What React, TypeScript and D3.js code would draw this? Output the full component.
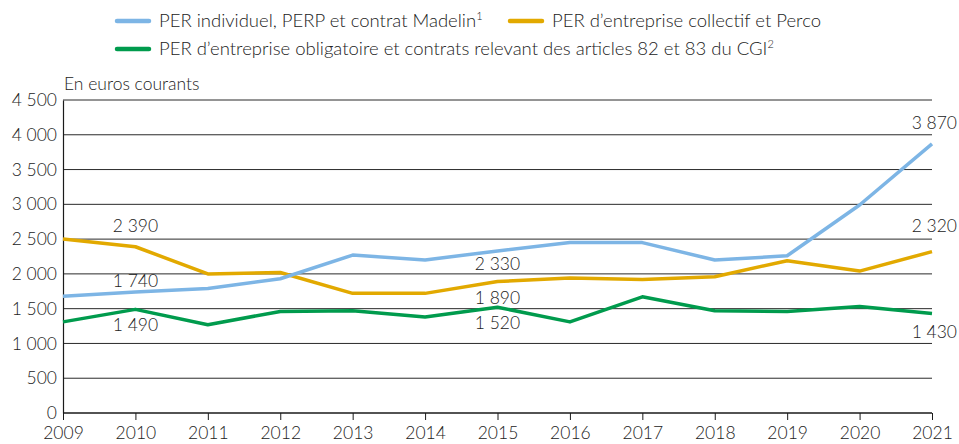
import React, { useEffect, useRef } from 'react';
import * as d3 from 'd3';

// Data
const years = [2009, 2010, 2011, 2012, 2013, 2014, 2015, 2016, 2017, 2018, 2019, 2020, 2021];
const perIndividuel = [1680, 1740, 1790, 1930, 2270, 2200, 2330, 2450, 2450, 2200, 2260, 2990, 3870];
const perCollectif = [2500, 2390, 2000, 2020, 1720, 1720, 1890, 1940, 1920, 1960, 2190, 2040, 2320];
const perObligatoire = [1310, 1490, 1270, 1460, 1470, 1380, 1520, 1310, 1670, 1470, 1460, 1530, 1430];
const yTicks = [0, 500, 1000, 1500, 2000, 2500, 3000, 3500, 4000, 4500];

const seriesNames = [
  'PER individuel, PERP et contrat Madelin',
  'PER d\u2019entreprise collectif et Perco',
  'PER d\u2019entreprise obligatoire et contrats relevant des articles 82 et 83 du CGI',
];
const seriesSup = ['1', '', '2'];
const colors = ['#7db5e5', '#e2a900', '#009b4d'];

// value labels: [seriesIndex, yearIndex]
const valueLabels: [number, number][] = [
  [1, 1], [0, 1], [2, 1],
  [0, 6], [1, 6], [2, 6],
  [0, 12], [1, 12], [2, 12],
];
// baseline offset of each label from its point (layout only)
const labelDy = [-15, -5, 22, 19, 22, 22, -15, -20, 24];

const fmt = (v: number) => d3.format(',')(v).replace(/,/g, ' ');

const App = () => {
  const svgRef = useRef<SVGSVGElement | null>(null);

  useEffect(() => {
    if (!svgRef.current) return;
    const svg = d3.select(svgRef.current);
    svg.selectAll('*').remove();

    const font = 'Lato, "Noto Sans", sans-serif';
    const fs = 17.5;
    const left = 63, right = 932, top = 100, bottom = 413;

    const x = d3.scalePoint<number>().domain(years).range([left, right]);
    const y = d3.scaleLinear().domain([0, 4500]).range([bottom, top]);

    // grid
    svg.append('g')
      .selectAll('line')
      .data(yTicks.filter(t => t > 0))
      .join('line')
      .attr('x1', left)
      .attr('x2', right)
      .attr('y1', d => y(d))
      .attr('y2', d => y(d))
      .attr('stroke', '#2a2a2a')
      .attr('stroke-width', 1);

    // y axis
    const yAxis = svg.append('g')
      .attr('transform', `translate(${left},0)`)
      .call(d3.axisLeft(y).tickValues(yTicks).tickSize(0).tickPadding(6).tickFormat(d => fmt(+d)));
    yAxis.select('.domain').attr('stroke', '#1a1a1a').attr('stroke-width', 1.2);
    yAxis.selectAll('text')
      .attr('font-family', font)
      .attr('font-weight', 300)
      .attr('font-size', fs)
      .attr('fill', '#222');

    // x axis
    const xAxis = svg.append('g')
      .attr('transform', `translate(0,${bottom})`)
      .call(d3.axisBottom(x).tickSize(7).tickPadding(7).tickFormat(d => String(d)));
    xAxis.select('.domain').attr('stroke', '#1a1a1a').attr('stroke-width', 1.5).attr('d', `M${left},0H${right}`);
    xAxis.selectAll('line').attr('stroke', '#1a1a1a');
    xAxis.selectAll('text')
      .attr('font-family', font)
      .attr('font-weight', 300)
      .attr('font-size', fs)
      .attr('fill', '#222');

    // unit label
    svg.append('text')
      .attr('x', left + 1)
      .attr('y', 90)
      .attr('font-family', font)
      .attr('font-weight', 300)
      .attr('font-size', fs)
      .attr('fill', '#222')
      .text('En euros courants');

    // lines
    const allSeries = [perIndividuel, perCollectif, perObligatoire];
    const line = d3.line<number>()
      .x((_, i) => x(years[i]) as number)
      .y(d => y(d));
    [2, 1, 0].forEach(s => {
      svg.append('path')
        .datum(allSeries[s])
        .attr('d', line)
        .attr('fill', 'none')
        .attr('stroke', colors[s])
        .attr('stroke-width', 3.5)
        .attr('stroke-linejoin', 'round');
    });

    // value labels
    valueLabels.forEach(([s, i], k) => {
      const v = allSeries[s][i];
      const last = i === years.length - 1;
      svg.append('text')
        .attr('x', last ? 957 : (x(years[i]) as number))
        .attr('y', y(v) + labelDy[k])
        .attr('text-anchor', last ? 'end' : 'middle')
        .attr('font-family', font)
        .attr('font-weight', 300)
        .attr('font-size', fs)
        .attr('fill', '#222')
        .text(fmt(v));
    });

    // legend
    const legendItems = [
      { s: 0, x: 117, y: 21 },
      { s: 1, x: 510, y: 21 },
      { s: 2, x: 117, y: 49 },
    ];
    legendItems.forEach(({ s, x: lx, y: ly }) => {
      svg.append('line')
        .attr('x1', lx)
        .attr('x2', lx + 32)
        .attr('y1', ly)
        .attr('y2', ly)
        .attr('stroke', colors[s])
        .attr('stroke-width', 4.5)
        .attr('stroke-linecap', 'round');
      const t = svg.append('text')
        .attr('x', lx + 42)
        .attr('y', ly + 6)
        .attr('font-family', font)
        .attr('font-weight', 300)
        .attr('font-size', 18.5)
        .attr('fill', '#222')
        .text(seriesNames[s]);
      if (seriesSup[s]) {
        t.append('tspan')
          .attr('font-size', 11)
          .attr('dy', -7)
          .text(seriesSup[s]);
      }
    });
  }, []);

  return (
    <svg
      ref={svgRef}
      width={959}
      height={444}
      style={{ position: 'absolute', left: 0, top: 0, background: '#fff' }}
    />
  );
};

export default App;
